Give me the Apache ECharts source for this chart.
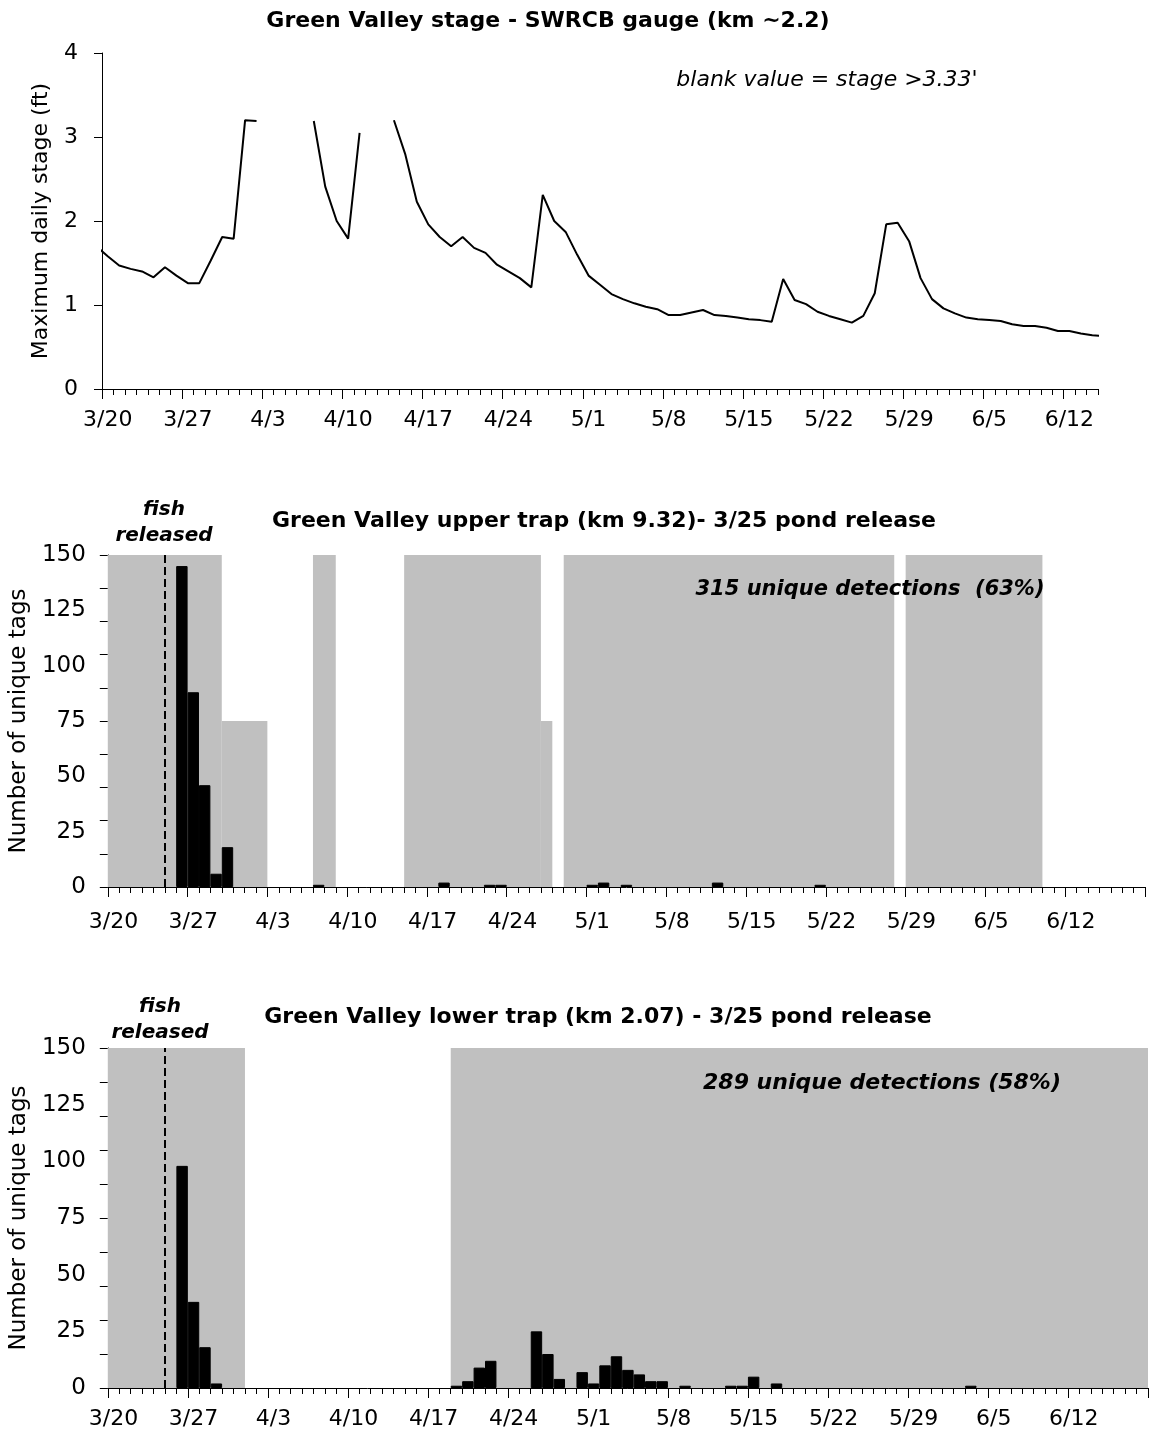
<!DOCTYPE html>
<html>
<head>
<meta charset="utf-8">
<script src="https://cdn.jsdelivr.net/npm/echarts@6/dist/echarts.min.js"></script>
<style>
html,body{margin:0;padding:0;background:#fff;}
#c{width:1151px;height:1437px;}
</style>
</head>
<body>
<div id="c"></div>
<script>
// ---------------- DATA ----------------
// week tick labels (shared by all three panels)
const xTickLabels = ['3/20','3/27','4/3','4/10','4/17','4/24','5/1','5/8','5/15','5/22','5/29','6/5','6/12'];

// Panel 1: maximum daily stage (ft); first value is 3/19, one value per day, null = blank (stage > 3.33')
const stageFirstDay = '3/19';
const stageValues = [
  1.70, 1.58, 1.47, 1.43, 1.40, 1.33, 1.45, 1.35, 1.26, 1.26,
  1.53, 1.81, 1.79, 3.20, 3.19, null, null, null, null, 3.19,
  2.41, 2.00, 1.79, 3.05, null, null, 3.20, 2.79, 2.23, 1.96,
  1.81, 1.70, 1.81, 1.68, 1.62, 1.48, 1.40, 1.32, 1.21, 2.31,
  2.00, 1.87, 1.60, 1.35, 1.24, 1.13, 1.07, 1.02, 0.98, 0.95,
  0.88, 0.88, 0.91, 0.94, 0.88, 0.87, 0.85, 0.83, 0.82, 0.80,
  1.31, 1.06, 1.01, 0.92, 0.87, 0.83, 0.79, 0.87, 1.14, 1.96,
  1.98, 1.76, 1.32, 1.07, 0.96, 0.90, 0.85, 0.83, 0.82, 0.81,
  0.77, 0.75, 0.75, 0.73, 0.69, 0.69, 0.66, 0.64, 0.63
];

// Panel 2: upper trap detections
const upperDates  = ['3/26','3/27','3/28','3/29','3/30','4/7','4/18','4/22','4/23','5/1','5/2','5/4','5/12','5/21'];
const upperCounts = [145, 88, 46, 6, 18, 1, 2, 1, 1, 1, 2, 1, 2, 1];
// periods the antenna was operating (grey shading): start, end, shading height
const upperOpStart = ['3/20','3/30','4/7','4/15','4/27','4/29','5/29'];
const upperOpEnd   = ['3/29','4/2','4/8','4/26','4/27','5/27','6/9'];
const upperOpLevel = [150, 75, 150, 150, 75, 150, 150];

// Panel 3: lower trap detections
const lowerDates  = ['3/26','3/27','3/28','3/29','4/19','4/20','4/21','4/22','4/26','4/27','4/28','4/30',
                     '5/1','5/2','5/3','5/4','5/5','5/6','5/7','5/9','5/13','5/14','5/15','5/17','6/3'];
const lowerCounts = [98, 38, 18, 2, 1, 3, 9, 12, 25, 15, 4, 7, 2, 10, 14, 8, 6, 3, 3, 1, 1, 1, 5, 2, 1];
const lowerOpStart = ['3/20','4/19'];
const lowerOpEnd   = ['3/31','6/18'];
const lowerOpLevel = [150, 150];

const releaseDate = '3/25';
const countYTicks  = [0, 15, 30, 45, 60, 75, 90, 105, 120, 135, 150];
const countYLabels = [0, 25, 50, 75, 100, 125, 150];

// ---------------- HELPERS ----------------
const FONT = 'DejaVu Sans';
function dayIndex(md) {           // days after 3/20
  const p = md.split('/').map(Number);
  const base = {3: -20, 4: 11, 5: 41, 6: 72};
  return base[p[0]] + p[1];
}
function range(a, b, s) { const r = []; for (let v = a; v <= b + 1e-9; v += s) r.push(v); return r; }
const labelPos = xTickLabels.map(l => dayIndex(l) + 0.5);
function fmtLabel(v) { const i = labelPos.findIndex(p => Math.abs(p - v) < 1e-6); return i >= 0 ? xTickLabels[i] : ''; }

const stageSeries = stageValues.map((v, i) => [dayIndex(stageFirstDay) + i + 0.5, v == null ? '-' : v]);
const upperSeries = upperDates.map((d, i) => [dayIndex(d) + 0.5, upperCounts[i]]);
const lowerSeries = lowerDates.map((d, i) => [dayIndex(d) + 0.5, lowerCounts[i]]);
const upperAreas = upperOpStart.map((s, i) => [{xAxis: dayIndex(s), yAxis: 0}, {xAxis: dayIndex(upperOpEnd[i]) + 1, yAxis: upperOpLevel[i]}]);
const lowerAreas = lowerOpStart.map((s, i) => [{xAxis: dayIndex(s), yAxis: 0}, {xAxis: dayIndex(lowerOpEnd[i]) + 1, yAxis: lowerOpLevel[i]}]);

// ---------------- AXES ----------------
const blk = {color: '#000', width: 1};
function xAxesFor(grid, maxDay, labelMargin) {
  return [
    { type: 'value', gridIndex: grid, min: 0, max: maxDay, position: 'bottom',
      axisLine: {show: true, onZero: false, lineStyle: blk},
      axisTick: {show: true, length: 6, lineStyle: blk, customValues: range(0, maxDay, 1)},
      axisLabel: {show: true, margin: labelMargin, fontSize: 22, fontFamily: FONT, color: '#000',
                  customValues: labelPos, formatter: fmtLabel, showMinLabel: true, showMaxLabel: true},
      splitLine: {show: false} },
    { type: 'value', gridIndex: grid, min: 0, max: maxDay, position: 'bottom',
      axisLine: {show: false},
      axisTick: {show: true, length: 10, lineStyle: blk, customValues: range(0, maxDay, 7)},
      axisLabel: {show: false},
      splitLine: {show: false} }
  ];
}
function countYAxis(grid, name) {
  return { type: 'value', gridIndex: grid, min: 0, max: 150, interval: 15,
    name: name, nameLocation: 'middle', nameGap: 66, nameRotate: 90,
    nameTextStyle: {fontSize: 23, fontFamily: FONT, color: '#000'},
    axisLine: {show: true, lineStyle: blk},
    axisTick: {show: true, length: 8, lineStyle: blk, customValues: countYTicks},
    axisLabel: {margin: 22, fontSize: 23, fontFamily: FONT, color: '#000', customValues: countYLabels},
    splitLine: {show: false} };
}

function txt(x, y, text, size, weight, italic, align) {
  return { type: 'text', x: x, y: y, silent: true, z: 100,
    style: { text: text, fontSize: size, fontFamily: FONT, fontWeight: weight,
             fontStyle: italic ? 'italic' : 'normal', fill: '#000',
             align: align || 'center', verticalAlign: 'middle', lineHeight: 26 } };
}

const barStyle = {color: '#000', borderColor: '#000', borderWidth: 1};

const option = {
  animation: false,
  backgroundColor: '#fff',
  grid: [
    {left: 102, top: 53, width: 996, height: 336},
    {left: 103, top: 555, width: 1042, height: 332},
    {left: 102, top: 1048, width: 1046, height: 340}
  ],
  xAxis: [].concat(xAxesFor(0, 87, 20), xAxesFor(1, 91, 24), xAxesFor(2, 91, 20)),
  yAxis: [
    { type: 'value', gridIndex: 0, min: 0, max: 4, interval: 1,
      name: 'Maximum daily stage (ft)', nameLocation: 'middle', nameGap: 50, nameRotate: 90,
      nameTextStyle: {fontSize: 22, fontFamily: FONT, color: '#000'},
      axisLine: {show: true, lineStyle: blk},
      axisTick: {show: true, length: 8, lineStyle: blk},
      axisLabel: {margin: 24, fontSize: 22, fontFamily: FONT, color: '#000'},
      splitLine: {show: false} },
    countYAxis(1, 'Number of unique tags'),
    countYAxis(2, 'Number of unique tags')
  ],
  series: [
    { type: 'line', xAxisIndex: 0, yAxisIndex: 0, data: stageSeries, showSymbol: false,
      symbol: 'none', connectNulls: false, clip: true,
      lineStyle: {color: '#000', width: 2} },
    { type: 'bar', xAxisIndex: 2, yAxisIndex: 1, data: upperSeries, barWidth: '100%',
      itemStyle: barStyle, z: 3,
      markArea: {silent: true, z: 1, itemStyle: {color: '#C0C0C0'}, label: {show: false}, data: upperAreas},
      markLine: {silent: true, symbol: ['none','none'], label: {show: false},
                 lineStyle: {color: '#000', width: 2, type: [8, 4]}, data: [{xAxis: dayIndex(releaseDate)}]} },
    { type: 'bar', xAxisIndex: 4, yAxisIndex: 2, data: lowerSeries, barWidth: '100%',
      itemStyle: barStyle, z: 3,
      markArea: {silent: true, z: 1, itemStyle: {color: '#C0C0C0'}, label: {show: false}, data: lowerAreas},
      markLine: {silent: true, symbol: ['none','none'], label: {show: false},
                 lineStyle: {color: '#000', width: 2, type: [8, 4]}, data: [{xAxis: dayIndex(releaseDate)}]} }
  ],
  graphic: [
    txt(548, 21, 'Green Valley stage - SWRCB gauge (km ~2.2)', 22, 'bold', false),
    txt(827, 80, "blank value = stage >3.33'", 22, 'normal', true),
    txt(164, 523, 'fish\nreleased', 20, 'bold', true),
    txt(604, 521, 'Green Valley upper trap (km 9.32)- 3/25 pond release', 22, 'bold', false),
    txt(870, 590, '315 unique detections  (63%)', 21, 'bold', true),
    txt(160, 1020, 'fish\nreleased', 20, 'bold', true),
    txt(598, 1017, 'Green Valley lower trap (km 2.07) - 3/25 pond release', 22, 'bold', false),
    txt(882, 1083, '289 unique detections (58%)', 22, 'bold', true)
  ]
};

const chart = echarts.init(document.getElementById('c'), null, {renderer: 'canvas', width: 1151, height: 1437});
chart.setOption(option);
</script>
</body>
</html>
